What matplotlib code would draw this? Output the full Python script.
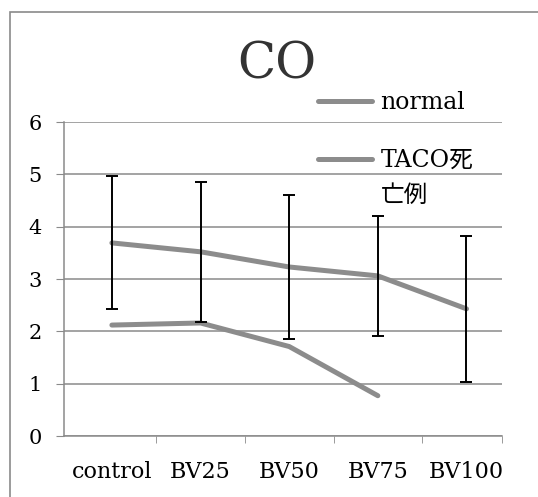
import numpy as np
import matplotlib
matplotlib.use("Agg")
import matplotlib.pyplot as plt
from matplotlib.patches import Rectangle

plt.rcParams['font.family'] = ['DejaVu Serif', 'Noto Sans CJK JP']

categories = ['control', 'BV25', 'BV50', 'BV75', 'BV100']
normal = [3.69, 3.52, 3.23, 3.06, 2.43]
normal_err = [1.27, 1.34, 1.38, 1.15, 1.40]
taco = [2.12, 2.16, 1.71, 0.77]

line_color = '#8c8c8c'
grid_color = '#8a8a8a'

fig = plt.figure(figsize=(5.38, 4.97), dpi=100)
ax = fig.add_axes([0.119, 0.1227, 0.814, 0.6318])

x = np.arange(len(categories))
ax.plot(x, normal, color=line_color, lw=3.6, solid_capstyle='round', label='normal', zorder=3)
ax.plot(x[:len(taco)], taco, color=line_color, lw=3.6, solid_capstyle='round',
        label='TACO死', zorder=3)
ax.errorbar(x, normal, yerr=normal_err, fmt='none', ecolor='black', elinewidth=1.4,
            capsize=4.5, capthick=1.4, zorder=4)

ax.set_xlim(-0.54, 4.4)
ax.set_ylim(0, 6)
ax.set_yticks(range(7))
ax.tick_params(axis='y', length=6, color=grid_color, pad=10, labelsize=15)
ax.yaxis.grid(True, color=grid_color, lw=1.1)
ax.set_axisbelow(True)

ax.set_xticks(x)
ax.set_xticklabels(categories)
ax.tick_params(axis='x', length=0, pad=18, labelsize=16)
ax.set_xticks([0.5, 1.5, 2.5, 3.5, 4.4], minor=True)
ax.tick_params(axis='x', which='minor', length=5, color=grid_color)

for s in ['top', 'right']:
    ax.spines[s].set_visible(False)
for s in ['left', 'bottom']:
    ax.spines[s].set_color(grid_color)
    ax.spines[s].set_linewidth(1.1)

fig.text(277 / 538, 1 - 65 / 497, 'CO', fontsize=36, ha='center', va='center',
         color='#333333')

leg = fig.legend(loc='upper left', bbox_to_anchor=(318 / 538, 1 - 91 / 497), frameon=False,
                 fontsize=17, handlelength=2.3, handletextpad=0.35, labelspacing=1.48,
                 borderpad=0, borderaxespad=0)
for h in leg.legend_handles:
    h.set_linewidth(3.6)

# second line of the TACO label sits under the first one
fig.canvas.draw()
bb = leg.get_texts()[1].get_window_extent()
fig.text(bb.x0 / 538, (bb.y0 + bb.y1) / 2 / 497 - 35 / 497, '亡例', fontsize=17,
         va='center', ha='left')

fig.patches.append(Rectangle((10 / 538, -0.05), 1.0, 1 - 12 / 497 + 0.05,
                             transform=fig.transFigure, fill=False,
                             edgecolor='#8a8a8a', lw=1.2))

fig.savefig('out.png', dpi=100)
